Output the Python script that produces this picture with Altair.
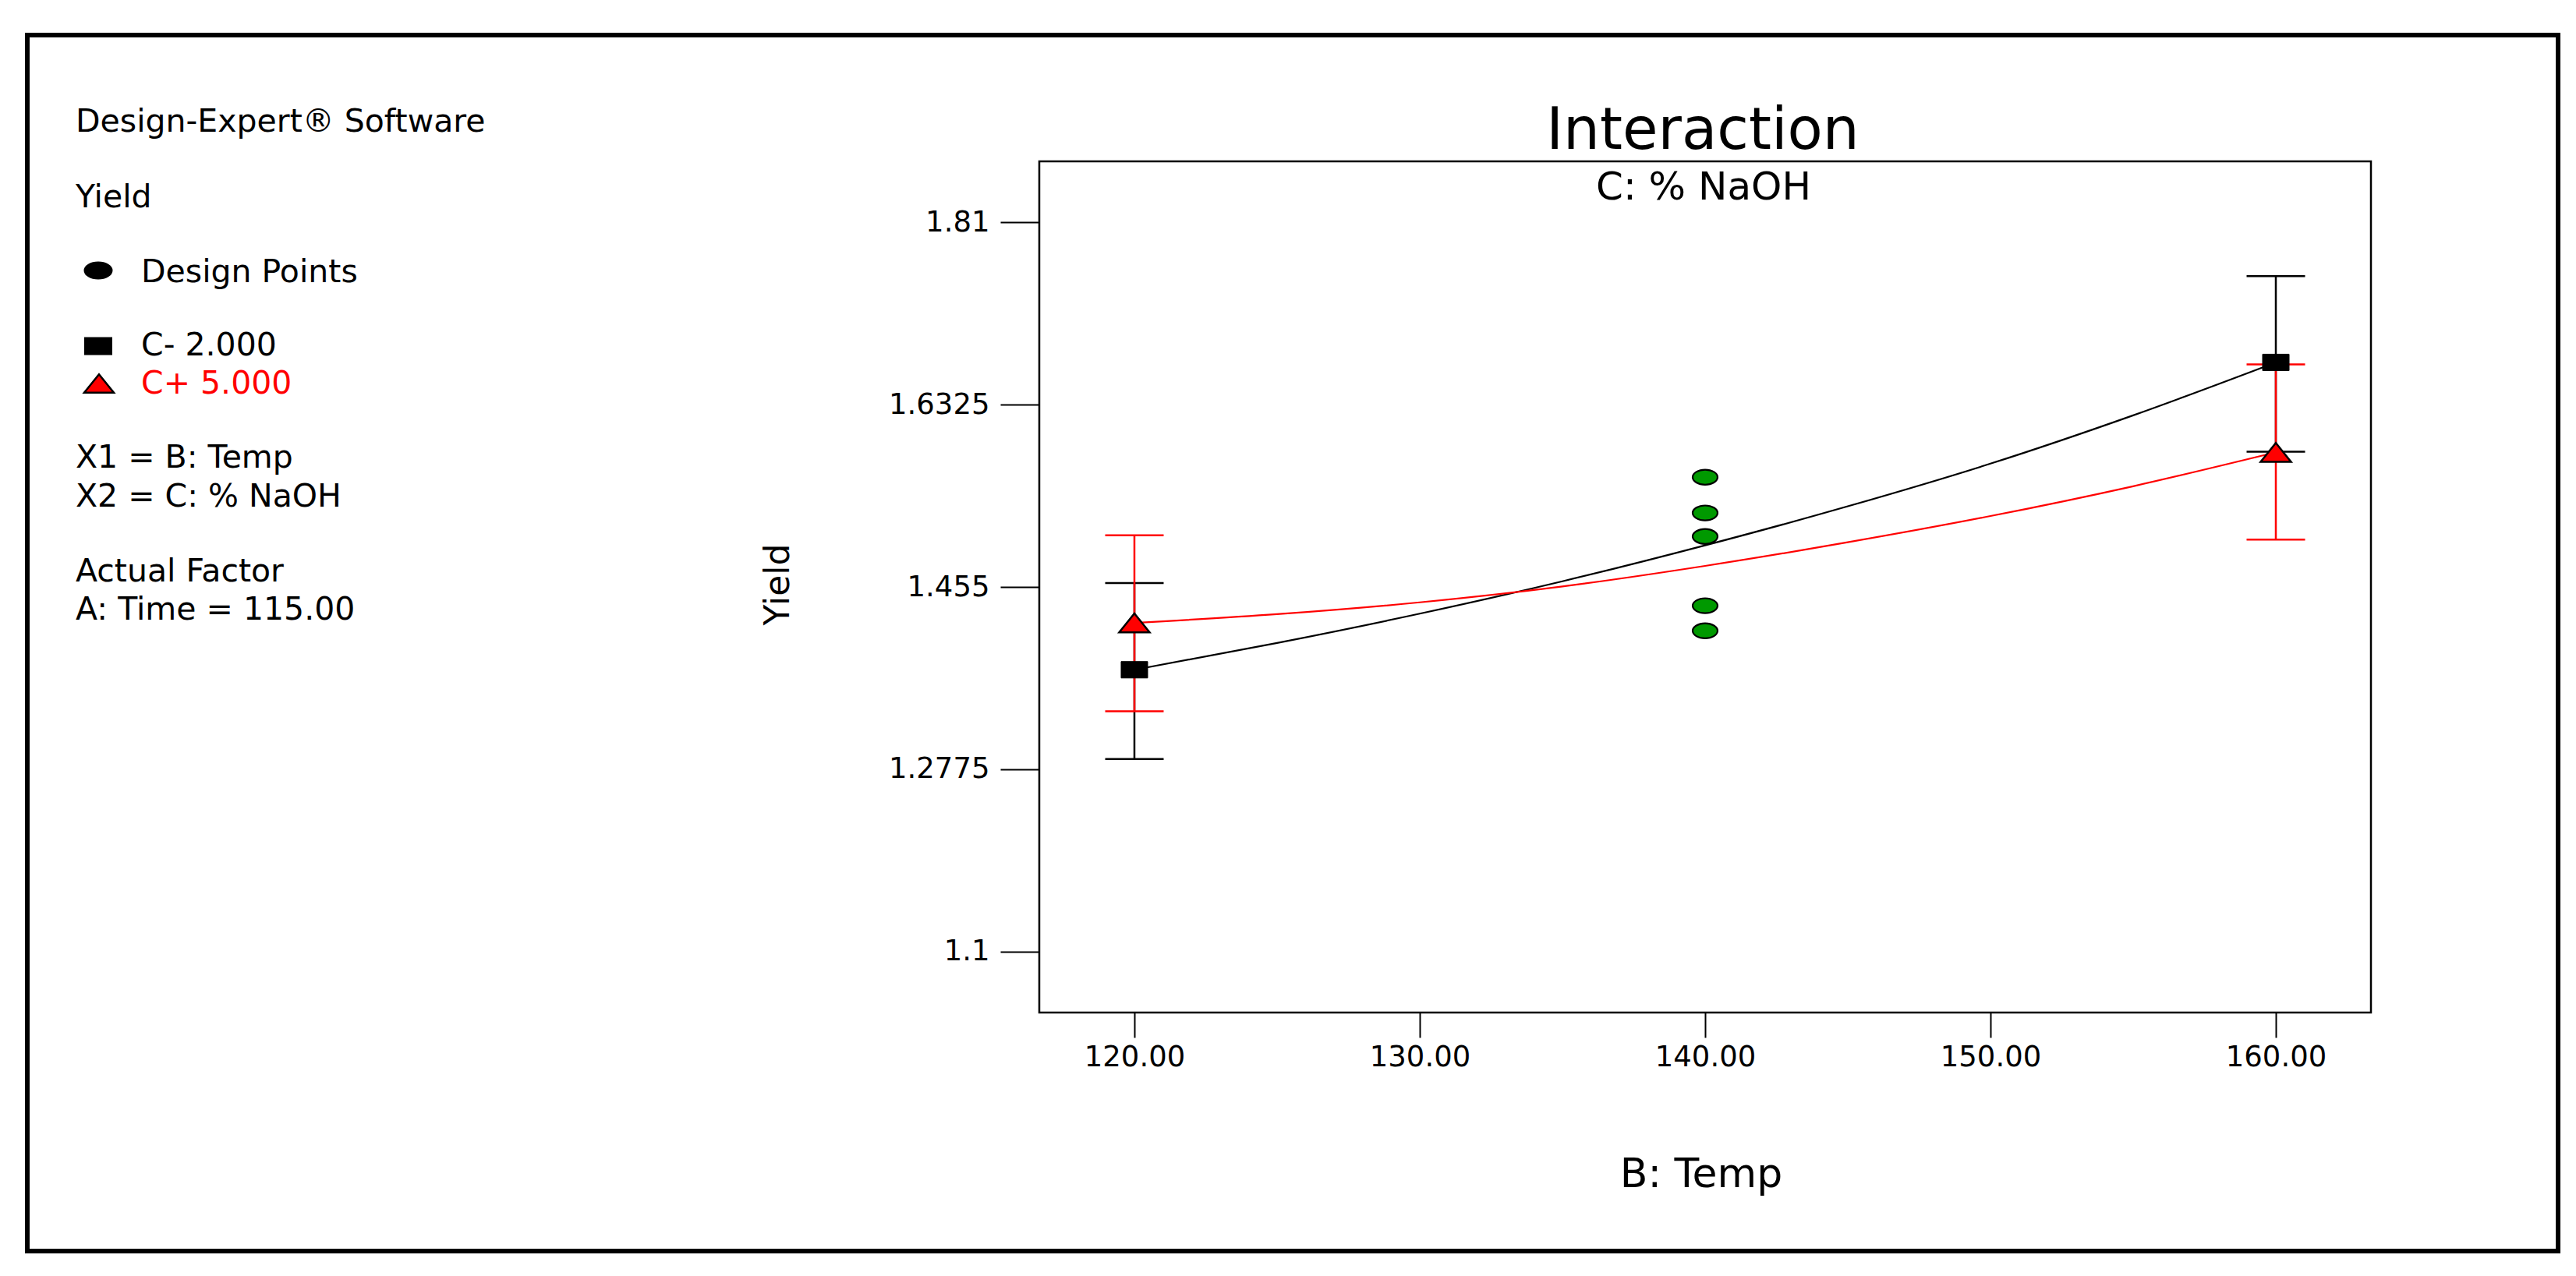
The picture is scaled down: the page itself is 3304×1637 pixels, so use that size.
import altair as alt
import pandas as pd

# ---------------- data ----------------
temp_grid = [120, 125, 130, 135, 140, 145, 150, 155, 160]
curve_c_minus = [1.3744, 1.4005, 1.429, 1.4605, 1.4955, 1.5335, 1.575, 1.622, 1.6735]
curve_c_plus = [1.42, 1.4285, 1.440, 1.4555, 1.4755, 1.4985, 1.524, 1.553, 1.586]

bar_temp = [120, 160]
c_minus_mean = [1.3744, 1.6735]
c_minus_low = [1.2876, 1.5867]
c_minus_high = [1.4588, 1.7575]
c_plus_mean = [1.42, 1.586]
c_plus_low = [1.334, 1.501]
c_plus_high = [1.5053, 1.6715]

design_temp = [140, 140, 140, 140, 140]
design_yield = [1.5618, 1.527, 1.5041, 1.4367, 1.4123]

x_ticks = [120, 130, 140, 150, 160]
y_ticks = [1.1, 1.2775, 1.455, 1.6325, 1.81]
x_domain = [116.6667, 163.3333]
y_domain = [1.04083, 1.86917]

title_text = "Interaction"
subtitle_text = "C: % NaOH"
x_title = "B: Temp"
y_title = "Yield"
info_lines = ["Design-Expert\u00ae Software", "Yield", "Design Points", "C- 2.000",
              "C+ 5.000", "X1 = B: Temp", "X2 = C: % NaOH", "Actual Factor",
              "A: Time = 115.00"]

# ---------------- styling ----------------
FONT = "DejaVu Sans"
RED = "#FF0000"
GREEN = "#009900"
W, H = 1708, 1092
ELLIPSE = "M-1,0A1,0.6,0,1,1,1,0A1,0.6,0,1,1,-1,0Z"
RECT = "M-1,-0.62L1,-0.62L1,0.62L-1,0.62Z"
TRI = "M0,-0.62L1,0.62L-1,0.62Z"
TICK_FS = 37
INFO_FS = 41

xs = alt.Scale(domain=x_domain, nice=False, zero=False)
ys = alt.Scale(domain=y_domain, nice=False, zero=False)
x_axis = alt.Axis(values=x_ticks, format=".2f", title=None, grid=False, domain=False,
                  tickSize=32, tickWidth=2, tickColor="black", labelFont=FONT,
                  labelFontSize=TICK_FS, labelColor="black", labelPadding=7,
                  labelFlush=False, labelOverlap=False)
y_axis = alt.Axis(values=y_ticks, format=".4~f", title=None, grid=False, domain=False,
                  tickSize=50, tickWidth=2, tickColor="black", labelFont=FONT,
                  labelFontSize=TICK_FS, labelColor="black", labelPadding=14,
                  labelFlush=False, labelOverlap=False)


def X(f):
    return alt.X(f"{f}:Q", scale=xs, axis=x_axis)


def Y(f):
    return alt.Y(f"{f}:Q", scale=ys, axis=y_axis)


DUMMY = pd.DataFrame({"d": [0]})

layers = []

# outer frame
layers.append(
    alt.Chart(DUMMY).mark_rect(fillOpacity=0, stroke="black", strokeWidth=6).encode(
        x=alt.value(-1298), x2=alt.value(1948), y=alt.value(-162), y2=alt.value(1398))
)

# curves
for vals, col in [(curve_c_minus, "black"), (curve_c_plus, RED)]:
    df = pd.DataFrame({"temp": temp_grid, "yield": vals})
    layers.append(
        alt.Chart(df).mark_line(color=col, strokeWidth=2.2, interpolate="monotone").encode(
            x=X("temp"), y=Y("yield"))
    )

# error bars
for low, high, col in [(c_minus_low, c_minus_high, "black"), (c_plus_low, c_plus_high, RED)]:
    df = pd.DataFrame({"temp": bar_temp, "low": low, "high": high})
    layers.append(
        alt.Chart(df).mark_rule(color=col, strokeWidth=2.5).encode(
            x=X("temp"), y=Y("low"), y2="high")
    )
    for f in ["low", "high"]:
        layers.append(
            alt.Chart(df).mark_tick(color=col, orient="horizontal", size=75,
                                    thickness=2.5, opacity=1).encode(x=X("temp"), y=Y(f))
        )

# design points
layers.append(
    alt.Chart(pd.DataFrame({"temp": design_temp, "yield": design_yield})).mark_point(
        shape=ELLIPSE, size=1024, filled=True, fill=GREEN, stroke="black",
        strokeWidth=2.2, opacity=1).encode(x=X("temp"), y=Y("yield"))
)

# predicted markers
layers.append(
    alt.Chart(pd.DataFrame({"temp": bar_temp, "yield": c_minus_mean})).mark_point(
        shape=RECT, size=1156, filled=True, fill="black", stroke="black",
        strokeWidth=1, opacity=1).encode(x=X("temp"), y=Y("yield"))
)
layers.append(
    alt.Chart(pd.DataFrame({"temp": bar_temp, "yield": c_plus_mean})).mark_point(
        shape=TRI, size=1521, filled=True, fill=RED, stroke="black",
        strokeWidth=2.5, opacity=1).encode(x=X("temp"), y=Y("yield"))
)


def text_at(s, x, y, size, color="black", align="left", angle=0):
    return alt.Chart(DUMMY).mark_text(
        text=s, font=FONT, fontSize=size, color=color, align=align,
        baseline="alphabetic", angle=angle).encode(x=alt.value(x), y=alt.value(y))


# titles
layers.append(text_at(title_text, 851, -16, 74, align="center"))
layers.append(text_at(subtitle_text, 852, 49, 50, align="center"))
layers.append(text_at(x_title, 849, 1316, 52, align="center"))
layers.append(text_at(y_title, -321, 543, 44, align="center", angle=270))

# info panel
info_pos = [(-1236, -38), (-1236, 59), (-1152, 155), (-1152, 249), (-1152, 298),
            (-1236, 393), (-1236, 443), (-1236, 539), (-1236, 588)]
for i, (s, (px, py)) in enumerate(zip(info_lines, info_pos)):
    layers.append(text_at(s, px, py, INFO_FS, color=RED if i == 4 else "black"))

# info panel markers
layers.append(alt.Chart(DUMMY).mark_point(
    shape=ELLIPSE, size=1225, filled=True, fill="black", stroke="black", opacity=1).encode(
    x=alt.value(-1207), y=alt.value(140)))
layers.append(alt.Chart(DUMMY).mark_point(
    shape=RECT, size=1156, filled=True, fill="black", stroke="black", opacity=1).encode(
    x=alt.value(-1207), y=alt.value(237)))
layers.append(alt.Chart(DUMMY).mark_point(
    shape=TRI, size=1444, filled=True, fill=RED, stroke="black", strokeWidth=2.5,
    opacity=1).encode(x=alt.value(-1206), y=alt.value(285)))

chart = alt.layer(*layers).properties(
    width=W, height=H,
    padding={"left": 24, "top": 34, "right": 8, "bottom": 8},
    background="white",
).configure_view(stroke="black", strokeWidth=2.5)

chart.save("out.html", embed_options={"renderer": "svg", "actions": False})
